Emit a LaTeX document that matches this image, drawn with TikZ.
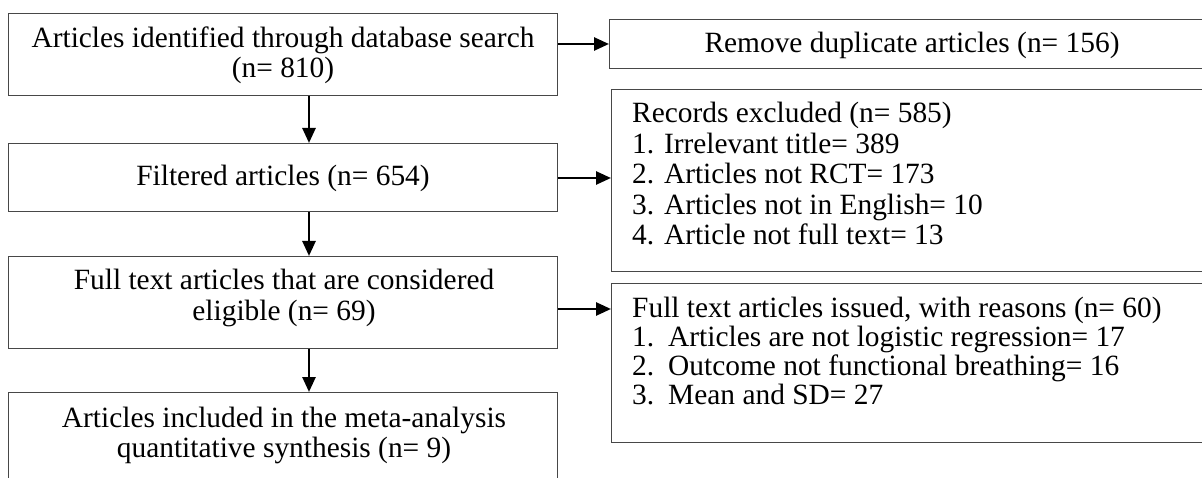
\documentclass[tikz,border=0pt]{standalone}
\usepackage{fontspec}
\setmainfont{Liberation Serif}
\usetikzlibrary{arrows.meta}
\begin{document}
\begin{tikzpicture}[x=1pt,y=-1pt,
  box/.style={draw=black!72, line width=1.3pt, rectangle, inner sep=0pt, anchor=north west},
  lbl/.style={inner sep=0pt, font=\fontsize{29.4}{30}\selectfont, anchor=base},
  lbll/.style={lbl, anchor=base west},
  flow/.style={line width=2.6pt, -{Triangle[length=15pt,width=13pt]}}]
\useasboundingbox (0,0) rectangle (1202,478);
\clip (0,0) rectangle (1202,478);
\fill[white] (0,0) rectangle (1202,478);

% main column
\node[box, minimum width=549pt, minimum height=82pt]  (b1) at (8,13)  {};
\node[box, minimum width=549pt, minimum height=68pt]  (b2) at (8,143) {};
\node[box, minimum width=549pt, minimum height=92pt]  (b3) at (8,256) {};
\node[box, minimum width=549pt, minimum height=120pt] (b4) at (8,392) {};

% exclusion column
\node[box, minimum width=612pt, minimum height=49pt]  (r1) at (609,19)  {};
\node[box, minimum width=612pt, minimum height=182pt] (r2) at (611,89)  {};
\node[box, minimum width=612pt, minimum height=159pt] (r3) at (611,283) {};

% main column labels
\node[lbl] (t1a) at (283,48)  {Articles identified through database search};
\node[lbl] (t1b) at (283,78)  {(n= 810)};
\node[lbl] (t2)  at (283,186) {Filtered articles (n= 654)};
\node[lbl] (t3a) at (284,290) {Full text articles that are considered};
\node[lbl] (t3b) at (284,320) {eligible (n= 69)};
\node[lbl] (t4a) at (284,427) {Articles included in the meta-analysis};
\node[lbl] (t4b) at (284,457) {quantitative synthesis (n= 9)};

% exclusion labels
\node[lbl]  (s1)  at (912,53)    {Remove duplicate articles (n= 156)};
\node[lbll] (s2a) at (632,123)   {Records excluded (n= 585)};
\node[lbll] (s2b) at (632,153.5) {1. Irrelevant title= 389};
\node[lbll] (s2c) at (632,184)   {2. Articles not RCT= 173};
\node[lbll] (s2d) at (632,214.5) {3. Articles not in English= 10};
\node[lbll] (s2e) at (632,245)   {4. Article not full text= 13};

\node[lbll] (s3a) at (632,317) {Full text articles issued, with reasons (n= 60)};
\node[lbll] (n1)  at (632,346) {1.};
\node[lbll] (s3b) at (668,346) {Articles are not logistic regression= 17};
\node[lbll] (n2)  at (632,375) {2.};
\node[lbll] (s3c) at (668,375) {Outcome not functional breathing= 16};
\node[lbll] (n3)  at (632,404) {3.};
\node[lbll] (s3d) at (668,404) {Mean and SD= 27};

% connector guides
\coordinate (vx) at (309,0);
\coordinate (h1) at (0,44);
\coordinate (h2) at (0,178);
\coordinate (h3) at (0,309);

% downward flow
\draw[flow] (b1.south -| vx) -- (b2.north -| vx);
\draw[flow] (b2.south -| vx) -- (b3.north -| vx);
\draw[flow] (b3.south -| vx) -- (b4.north -| vx);

% exclusions
\draw[flow] (b1.east |- h1) -- (r1.west |- h1);
\draw[flow] (b2.east |- h2) -- (r2.west |- h2);
\draw[flow] (b3.east |- h3) -- (r3.west |- h3);
\end{tikzpicture}
\end{document}
